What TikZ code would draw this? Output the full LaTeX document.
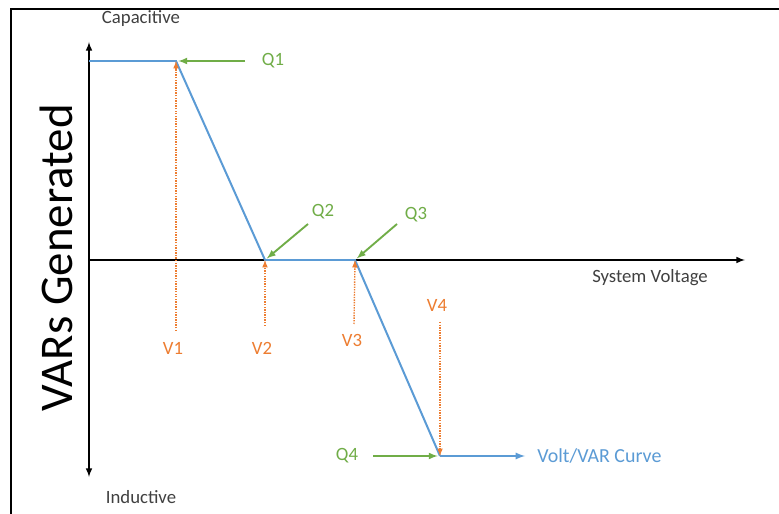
\documentclass[tikz,border=0pt]{standalone}
\usepackage{fontspec}
\setmainfont{Carlito}
\usetikzlibrary{arrows}
\usetikzlibrary{calc}
\definecolor{curveblue}{RGB}{91,155,213}
\definecolor{qgreen}{RGB}{112,173,71}
\definecolor{vorange}{RGB}{237,125,49}
\definecolor{axisgrey}{RGB}{64,64,64}
\tikzstyle{axis} = [draw,black,line width=1.5pt,-latex]
\tikzstyle{curve} = [draw,curveblue,line width=1.7pt]
\tikzstyle{qarrow} = [draw,qgreen,line width=1.6pt,-latex]
\tikzstyle{varrow} = [draw,vorange,line width=1.2pt,densely dotted,-latex]
\tikzstyle{qlabel} = [qgreen,font=\fontsize{16}{19}\selectfont,inner sep=1pt]
\tikzstyle{vlabel} = [vorange,font=\fontsize{16}{19}\selectfont,inner sep=1pt]
\tikzstyle{axislabel} = [axisgrey,font=\fontsize{16}{19}\selectfont,inner sep=1pt]

\begin{document}
\begin{tikzpicture}[x=0.03cm, y=-0.03cm]

  \useasboundingbox (0,0) rectangle (779,514);
  \fill[white] (0,0) rectangle (779,514);
  % frame
  \draw[line width=2.2pt] (779,9) -- (11,9) -- (11,514);

  % axes
  \coordinate (O) at (89,260);
  \coordinate (ytop) at (89,42);
  \coordinate (ybot) at (89,477);
  \coordinate (xend) at (745,260);
  \draw[axis] (O) -- (ytop);
  \draw[axis] (O) -- (ybot);
  \draw[axis] (O) -- (xend);

  \node[axislabel] (cap) at (141,19) {Capacitive};
  \node[axislabel] (ind) at (141,497) {Inductive};
  \node[axislabel] (sysv) at (650,278) {System Voltage};
  \node[black,rotate=90,font=\fontsize{40}{46}\selectfont] (vars) at (56,258) {VARs Generated};

  % curve points
  \foreach \x/\y/\name in {89/61/P0, 176/61/P1, 265/260/P2, 355/260/P3, 440/456/P4, 525/456/P5}
    \coordinate (\name) at (\x,\y);

  \draw[curve] (P0) -- (P1) -- (P2) -- (P3) -- (P4);
  \draw[curve,-latex] (P4) -- (P5);
  \node[curveblue,font=\fontsize{17}{20}\selectfont,anchor=west,inner sep=1pt] (vvc) at (536,456) {Volt/VAR Curve};

  % Q labels
  \foreach \x/\y/\name/\label in {273/61/Q1/Q1, 323/212/Q2/Q2, 416/215/Q3/Q3, 347/456/Q4/Q4}
    \node[qlabel] (\name) at (\x,\y) {\label};

  \foreach \x/\y/\name in {245/61/Q1t, 308/224/Q2t, 397/224/Q3t, 373/456/Q4t}
    \coordinate (\name) at (\x,\y);

  \foreach \source/\dest in {Q1t/P1, Q2t/P2, Q3t/P3, Q4t/P4}
    \draw[qarrow,shorten >=2pt] (\source) -- (\dest);

  % V labels
  \foreach \x/\y/\name/\label in {173/348/V1/V1, 262/348/V2/V2, 352/340/V3/V3, 437/305/V4/V4}
    \node[vlabel] (\name) at (\x,\y) {\label};

  \foreach \x/\y/\name in {176/331/V1t, 265/326/V2t, 354/324/V3t, 440/322/V4t}
    \coordinate (\name) at (\x,\y);

  \foreach \source/\dest in {V1t/P1, V2t/P2, V3t/P3, V4t/P4}
    \draw[varrow] (\source) -- (\dest);

\end{tikzpicture}
\end{document}
